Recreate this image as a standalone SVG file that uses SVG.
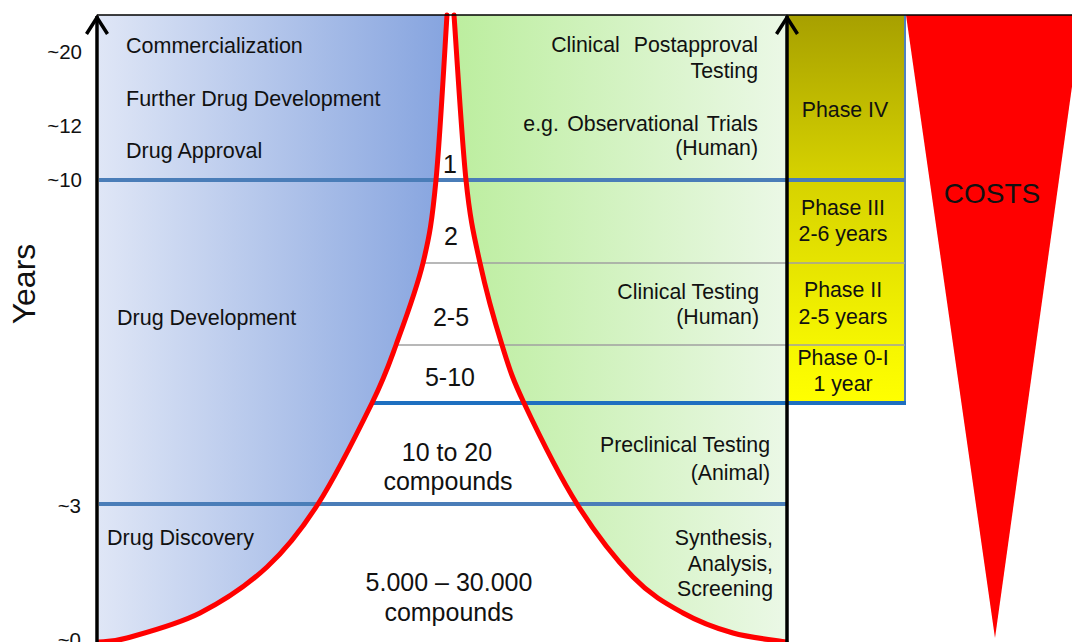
<svg xmlns="http://www.w3.org/2000/svg" width="1072" height="642" viewBox="0 0 1072 642">
<defs>
  <linearGradient id="gBlue" gradientUnits="userSpaceOnUse" x1="99" y1="0" x2="447" y2="0">
    <stop offset="0" stop-color="#dfe6f6"/>
    <stop offset="1" stop-color="#86a4df"/>
  </linearGradient>
  <linearGradient id="gGreen" gradientUnits="userSpaceOnUse" x1="460" y1="0" x2="786" y2="0">
    <stop offset="0" stop-color="#bdeea0"/>
    <stop offset="1" stop-color="#ebf8e6"/>
  </linearGradient>
  <linearGradient id="gPhase" gradientUnits="userSpaceOnUse" x1="0" y1="15" x2="0" y2="403">
    <stop offset="0" stop-color="#a7a000"/>
    <stop offset="0.42" stop-color="#d6d200"/>
    <stop offset="0.64" stop-color="#e6e400"/>
    <stop offset="0.85" stop-color="#f6f600"/>
    <stop offset="1" stop-color="#ffff00"/>
  </linearGradient>
  <style>
    text { font-family: "Liberation Sans", Arial, sans-serif; fill: #111; }
    .lbl { font-size: 21.5px; }
    .ax { font-size: 20.5px; text-anchor: end; }
    .gr { font-size: 21.3px; text-anchor: end; }
    .fn { font-size: 25px; text-anchor: middle; }
    .ph { font-size: 21.3px; text-anchor: middle; }
    .red { fill: none; stroke: #ff0000; stroke-width: 5; stroke-linecap: round; }
    .band { stroke: #4a7db8; stroke-width: 4; }
    .thin { stroke: #a0a0a0; stroke-width: 1.5; }
    .axis { stroke: #000; stroke-width: 3.5; fill: none; }
  </style>
</defs>

<rect width="1072" height="642" fill="#ffffff"/>

<g id="left-area">
  <path fill="url(#gBlue)" d="M99,15 L447,15 C445.2,42.5 440,138.7 436,180 C432,221.3 429.7,235.5 423,263 C416.3,290.5 404.5,321.7 396,345 C387.5,368.3 385,376.5 372,403 C359,429.5 335.5,476.7 318,504 C300.5,531.3 286.7,548.8 267,567 C247.3,585.2 223.3,601.2 200,613 C176.7,624.8 143.8,633.2 127,638 C110.2,642.8 103.7,641.3 99,642 Z"/>
</g>

<g id="right-area">
  <path fill="url(#gGreen)" d="M454,15 C456,42.5 461.7,138.7 466,180 C470.3,221.3 474,235.5 480,263 C486,290.5 494.7,321.7 502,345 C509.3,368.3 511.5,376.5 524,403 C536.5,429.5 558.8,475 577,504 C595.2,533 615.3,558.8 633,577 C650.7,595.2 666.3,603.7 683,613 C699.7,622.3 715.8,628.2 733,633 C750.2,637.8 777.2,640.5 786,642 L786,15 Z"/>
</g>

<g id="phases">
  <rect x="788" y="15" width="117" height="388" fill="url(#gPhase)"/>
  <line x1="905" y1="15" x2="905" y2="403" stroke="#4f81bd" stroke-width="2"/>
</g>

<g id="costs">
  <polygon points="906,15 1082,15 995,638" fill="#ff0000"/>
  <text x="992" y="203" style="font-size:28px; text-anchor:middle">COSTS</text>
</g>

<g id="connectors">
  <line class="band" x1="99" y1="180" x2="905" y2="180"/>
  <line class="thin" x1="423" y1="263" x2="905" y2="263"/>
  <line class="thin" x1="396" y1="345" x2="905" y2="345"/>
  <line x1="372" y1="403" x2="906" y2="403" stroke="#1e6fc0" stroke-width="4"/>
  <line class="band" x1="99" y1="504" x2="786" y2="504"/>
</g>

<g id="funnel">
  <path class="red" d="M447,15 C445.2,42.5 440,138.7 436,180 C432,221.3 429.7,235.5 423,263 C416.3,290.5 404.5,321.7 396,345 C387.5,368.3 385,376.5 372,403 C359,429.5 335.5,476.7 318,504 C300.5,531.3 286.7,548.8 267,567 C247.3,585.2 223.3,601.2 200,613 C176.7,624.8 143.8,633.2 127,638 C110.2,642.8 103.7,641.3 99,642"/>
  <path class="red" d="M454,15 C456,42.5 461.7,138.7 466,180 C470.3,221.3 474,235.5 480,263 C486,290.5 494.7,321.7 502,345 C509.3,368.3 511.5,376.5 524,403 C536.5,429.5 558.8,475 577,504 C595.2,533 615.3,558.8 633,577 C650.7,595.2 666.3,603.7 683,613 C699.7,622.3 715.8,628.2 733,633 C750.2,637.8 777.2,640.5 786,642"/>
  <text class="fn" x="450" y="173">1</text>
  <text class="fn" x="451" y="245">2</text>
  <text class="fn" x="451" y="326">2-5</text>
  <text class="fn" x="450" y="386">5-10</text>
  <text class="fn" x="447" y="461">10 to 20</text>
  <text class="fn" x="448" y="490">compounds</text>
  <text class="fn" x="449" y="591">5.000 – 30.000</text>
  <text class="fn" x="449" y="621">compounds</text>
</g>

<g id="axes">
  <line x1="97" y1="15" x2="1072" y2="15" stroke="#000" stroke-width="1.5"/>
  <line class="axis" x1="97" y1="16" x2="97" y2="642"/>
  <polyline class="axis" points="86.5,34 97,17.5 107.5,34" stroke-width="4"/>
  <line class="axis" x1="787" y1="16" x2="787" y2="642"/>
  <polyline class="axis" points="776.5,34 787,17.5 797.5,34" stroke-width="4"/>
  <text x="35" y="284" transform="rotate(-90 35 284)" style="font-size:32px; text-anchor:middle">Years</text>
  <text class="ax" x="82" y="59">~20</text>
  <text class="ax" x="82" y="133">~12</text>
  <text class="ax" x="82" y="187">~10</text>
  <text class="ax" x="81" y="513">~3</text>
  <text class="ax" x="81" y="647">~0</text>
</g>

<g id="left-labels">
  <text class="lbl" x="126" y="53">Commercialization</text>
  <text class="lbl" x="126" y="106">Further Drug Development</text>
  <text class="lbl" x="126" y="158">Drug Approval</text>
  <text class="lbl" x="117" y="325">Drug Development</text>
  <text class="lbl" x="107" y="545">Drug Discovery</text>
</g>

<g id="right-labels">
  <text class="gr" x="758" y="52" style="word-spacing:8px">Clinical Postapproval</text>
  <text class="gr" x="758" y="78">Testing</text>
  <text class="gr" x="758" y="131" style="word-spacing:2.5px">e.g. Observational Trials</text>
  <text class="gr" x="758" y="155">(Human)</text>
  <text class="gr" x="759" y="299">Clinical Testing</text>
  <text class="gr" x="759" y="324">(Human)</text>
  <text class="gr" x="770" y="452">Preclinical Testing</text>
  <text class="gr" x="770" y="480">(Animal)</text>
  <text class="gr" x="773" y="545">Synthesis,</text>
  <text class="gr" x="773" y="571">Analysis,</text>
  <text class="gr" x="773" y="596">Screening</text>
</g>

<g id="phase-labels">
  <text class="ph" x="845" y="117">Phase IV</text>
  <text class="ph" x="843" y="215">Phase III</text>
  <text class="ph" x="843" y="241">2-6 years</text>
  <text class="ph" x="843" y="297">Phase II</text>
  <text class="ph" x="843" y="324">2-5 years</text>
  <text class="ph" x="843" y="365">Phase 0-I</text>
  <text class="ph" x="843" y="391">1 year</text>
</g>
</svg>
